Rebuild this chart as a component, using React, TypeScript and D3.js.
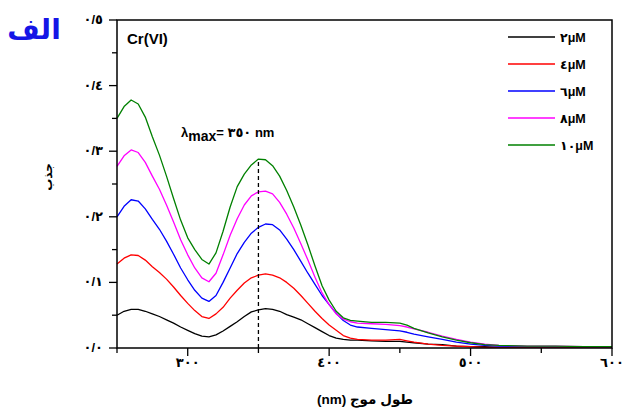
import React from "react";
import * as d3 from "d3";

const WAVELENGTHS = [250,255,260,265,270,275,280,285,290,295,300,305,310,315,320,325,330,335,340,345,350,355,360,365,370,375,380,385,390,395,400,405,410,415,420,430,440,450,455,460,470,480,490,500,510,520,540,560,580,600];

const S2 = [0.050,0.056,0.059,0.059,0.056,0.052,0.048,0.043,0.038,0.032,0.027,0.022,0.018,0.017,0.020,0.026,0.033,0.040,0.048,0.055,0.058,0.060,0.059,0.056,0.051,0.047,0.043,0.037,0.031,0.025,0.019,0.015,0.013,0.012,0.012,0.011,0.010,0.010,0.009,0.008,0.006,0.005,0.003,0.002,0.002,0.001,0.001,0.001,0.001,0.001];
const S4 = [0.128,0.137,0.142,0.141,0.134,0.124,0.115,0.105,0.093,0.080,0.068,0.057,0.048,0.045,0.052,0.062,0.076,0.088,0.099,0.107,0.111,0.113,0.111,0.107,0.100,0.091,0.080,0.068,0.056,0.045,0.035,0.027,0.019,0.015,0.013,0.012,0.012,0.013,0.011,0.009,0.006,0.004,0.003,0.002,0.001,0.001,0.001,0.001,0.001,0.001];
const S6 = [0.200,0.216,0.226,0.224,0.212,0.196,0.181,0.163,0.143,0.122,0.104,0.088,0.076,0.071,0.080,0.100,0.122,0.144,0.161,0.175,0.184,0.189,0.188,0.180,0.166,0.150,0.132,0.114,0.097,0.080,0.066,0.053,0.042,0.035,0.032,0.030,0.028,0.026,0.024,0.021,0.017,0.013,0.009,0.006,0.004,0.003,0.002,0.002,0.002,0.002];
const S8 = [0.277,0.293,0.302,0.298,0.283,0.262,0.242,0.218,0.192,0.165,0.142,0.122,0.107,0.101,0.114,0.142,0.172,0.197,0.218,0.232,0.238,0.239,0.235,0.222,0.204,0.183,0.159,0.134,0.108,0.084,0.066,0.052,0.044,0.040,0.038,0.037,0.036,0.034,0.032,0.029,0.024,0.018,0.013,0.009,0.006,0.004,0.003,0.003,0.002,0.002];
const S10 = [0.350,0.368,0.378,0.372,0.352,0.322,0.294,0.262,0.228,0.195,0.168,0.150,0.135,0.128,0.145,0.178,0.215,0.246,0.265,0.279,0.288,0.287,0.278,0.262,0.240,0.215,0.187,0.157,0.125,0.095,0.073,0.056,0.046,0.042,0.041,0.039,0.039,0.038,0.035,0.030,0.023,0.017,0.012,0.008,0.005,0.004,0.003,0.003,0.002,0.002];

const SERIES_LABELS = ["٢μM", "٤μM", "٦μM", "٨μM", "١٠μM"];
const SERIES_VALUES = [S2, S4, S6, S8, S10];
const SERIES_COLORS = ["#000000", "#ff0000", "#0000ff", "#ff00ff", "#008000"];

const X_TICKS = [300, 400, 500, 600];
const X_TICK_LABELS = ["٣٠٠", "٤٠٠", "٥٠٠", "٦٠٠"];
const X_MINOR = [350, 450, 550];
const Y_TICKS = [0, 0.1, 0.2, 0.3, 0.4, 0.5];
const Y_TICK_LABELS = ["٠/٠", "٠/١", "٠/٢", "٠/٣", "٠/٤", "٠/٥"];
const Y_MINOR = [0.05, 0.15, 0.25, 0.35, 0.45];
const LAMBDA_MAX = 350;

const W = 622, H = 408;
const L = 117, R = 612, T = 20, B = 348;
const FONT = "'Liberation Sans', Arial, 'DejaVu Sans', sans-serif";

export default function App() {
  const x = d3.scaleLinear().domain([250, 600]).range([L, R]);
  const y = d3.scaleLinear().domain([0, 0.5]).range([B, T]);
  const line = d3.line<number>().x((_, i) => x(WAVELENGTHS[i])).y((d) => y(d));
  const peakIdx = WAVELENGTHS.indexOf(LAMBDA_MAX);
  const peakVal = S10[peakIdx];

  return (
    <svg width={W} height={H} style={{ position: "absolute", left: 0, top: 0, background: "#fff" }} fontFamily={FONT}>
      <rect x={0} y={0} width={W} height={H} fill="#fff" />
      <text x={34} y={39} fontSize={28} fontWeight="bold" fill="#1515e6" textAnchor="middle" fontFamily="'DejaVu Sans', sans-serif">الف</text>

      {SERIES_VALUES.map((vals, k) => (
        <path key={k} d={line(vals) || ""} fill="none" stroke={SERIES_COLORS[k]} strokeWidth={1.3} strokeLinejoin="round" />
      ))}

      <line x1={x(LAMBDA_MAX)} x2={x(LAMBDA_MAX)} y1={B} y2={y(peakVal)} stroke="#000" strokeWidth={1.3} strokeDasharray="4,3" />

      <rect x={L} y={T} width={R - L} height={B - T} fill="none" stroke="#000" strokeWidth={1.5} />

      {Y_TICKS.map((t, i) => (
        <g key={"yt" + i}>
          <line x1={L - 8} x2={L} y1={y(t)} y2={y(t)} stroke="#000" strokeWidth={1.3} />
          <text x={L - 14} y={y(t) + 4} fontSize={13} fontWeight="bold" letterSpacing={1.5} textAnchor="end">{Y_TICK_LABELS[i]}</text>
        </g>
      ))}
      {Y_MINOR.map((t, i) => (
        <line key={"ym" + i} x1={L - 5} x2={L} y1={y(t)} y2={y(t)} stroke="#000" strokeWidth={1.3} />
      ))}
      {X_TICKS.map((t, i) => (
        <g key={"xt" + i}>
          <line x1={x(t)} x2={x(t)} y1={B} y2={B + 8} stroke="#000" strokeWidth={1.3} />
          <text x={x(t)} y={367} fontSize={13} fontWeight="bold" letterSpacing={2} textAnchor="middle">{X_TICK_LABELS[i]}</text>
        </g>
      ))}
      {[250, ...X_MINOR].map((t, i) => (
        <line key={"xm" + i} x1={x(t)} x2={x(t)} y1={B} y2={B + 5} stroke="#000" strokeWidth={1.3} />
      ))}

      <text x={365} y={404} fontSize={13.5} fontWeight="bold" textAnchor="middle" style={{ direction: "rtl" }}>طول  موج (nm)</text>
      <text transform="translate(52,177) rotate(-90)" fontSize={12} fontWeight="bold" textAnchor="middle">جذب</text>

      <text x={127} y={44} fontSize={15} fontWeight="bold">Cr(VI)</text>

      <text x={181} y={137} fontSize={13} fontWeight="bold">
        <tspan>λ</tspan>
        <tspan dy={4} fontSize={14}>max</tspan>
        <tspan dy={-4}>= ٣٥٠ nm</tspan>
      </text>

      {SERIES_LABELS.map((lab, k) => {
        const yy = 37 + k * 27;
        return (
          <g key={"lg" + k}>
            <line x1={508} x2={555} y1={yy} y2={yy} stroke={SERIES_COLORS[k]} strokeWidth={1.3} />
            <text x={560} y={yy + 5} fontSize={12.5} fontWeight="bold">{lab}</text>
          </g>
        );
      })}
    </svg>
  );
}
